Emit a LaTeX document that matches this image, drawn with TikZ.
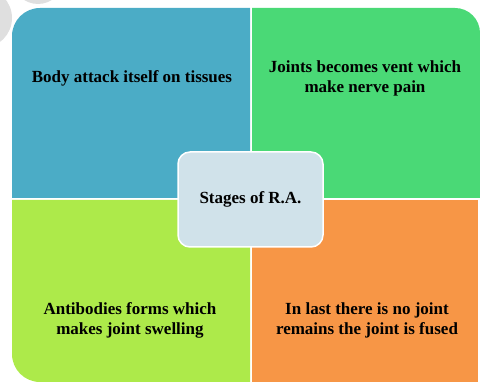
\documentclass[tikz,border=0pt]{standalone}
\usepackage{fontspec}
\setmainfont{Liberation Serif}
\definecolor{quadblue}{HTML}{4BACC6}
\definecolor{quadgreen}{HTML}{4AD976}
\definecolor{quadlime}{HTML}{ADEA4A}
\definecolor{quadorange}{HTML}{F79646}
\definecolor{centerfill}{HTML}{D0E2EA}
\def\bluequad{(12,185) -- (12,347) arc (180:90:28) -- (250,375) -- (250,185) -- cycle}
\def\greenquad{(252,185) -- (252,375) -- (455,375) arc (90:0:25) -- (480,185) -- cycle}
\def\limequad{(12,183) -- (250,183) -- (250,1) -- (40,1) arc (270:180:28) -- cycle}
\def\orangequad{(252,183) -- (478,183) -- (478,1) -- (252,1) -- cycle}
\tikzset{
    quadtext/.style={font=\bfseries\fontsize{17}{20}\selectfont, align=center, text=black},
    centerbox/.style={draw=white, line width=1.5pt, fill=centerfill, rounded corners=12pt,
        minimum width=145pt, minimum height=95pt, font=\bfseries\fontsize{17}{20}\selectfont}
}
\begin{document}
\begin{tikzpicture}[x=1pt,y=1pt]
        \useasboundingbox (0,0) rectangle (480,383);
        \begin{scope}
            \clip (0,0) rectangle (480,383);
            \fill[gray!25] (-18,365) circle (30);
            \fill[gray!25] (38,405) circle (26);
        \end{scope}

        \fill[quadblue] \bluequad;
        \fill[quadgreen] \greenquad;
        \fill[quadlime] \limequad;
        \fill[quadorange] \orangequad;

        \node[quadtext] (bodyattack) at (132,305) {Body attack itself on tissues};
        \node[quadtext] (jointsvent) at (365,305) {Joints becomes vent which\\make nerve pain};
        \node[quadtext] (antibodies) at (130,63) {Antibodies forms which\\makes joint swelling};
        \node[quadtext] (jointfused) at (367,63) {In last there is no joint\\remains the joint is fused};

        \node[centerbox] (stages) at (250.5,183.5) {Stages of R.A.};
    \end{tikzpicture}
\end{document}
